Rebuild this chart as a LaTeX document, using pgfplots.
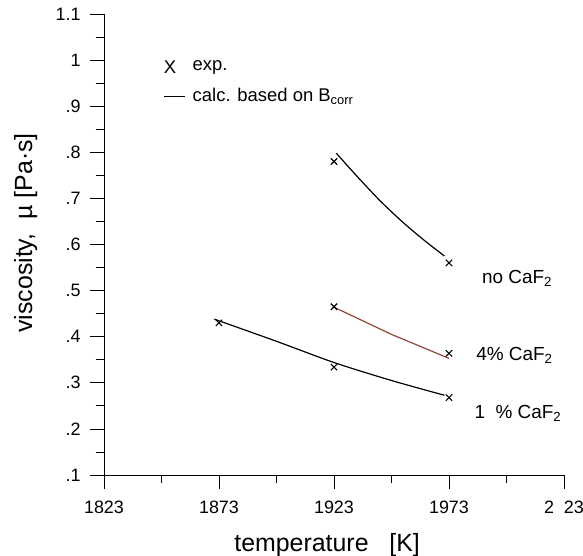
\documentclass[border=0pt]{standalone}
\usepackage{fontspec}
\setmainfont{Liberation Sans}
\usepackage{pgfplots}
\pgfplotsset{compat=1.18}
\definecolor{calcred}{RGB}{150,68,60}
\newcommand\tl{\fontsize{18}{21}\selectfont}
\begin{document}
\begin{tikzpicture}
\useasboundingbox (-104bp,-81bp) rectangle (479bp,475bp);
\begin{axis}[
  at={(0,0)}, anchor=south west,
  scale only axis, width=460bp, height=461bp,
  xmin=1823, xmax=2023, ymin=0.1, ymax=1.1,
  axis lines*=left,
  axis line style={line width=0.8pt},
  tick align=outside,
  major tick length=14bp, minor tick length=8bp,
  every tick/.style={line width=0.8pt, black},
  xtick={1823,1873,1923,1973,2023},
  xticklabels={{\tl 1823},{\tl 1873},{\tl 1923},{\tl 1973},{\tl 2\phantom{0}23}},
  minor xtick={1848,1898,1948,1998},
  ytick={0.1,0.2,0.3,0.4,0.5,0.6,0.7,0.8,0.9,1.0,1.1},
  yticklabels={{\tl .1},{\tl .2},{\tl .3},{\tl .4},{\tl .5},{\tl .6},{\tl .7},{\tl .8},{\tl .9},{\tl 1},{\tl 1.1}},
  minor ytick={0.15,0.25,0.35,0.45,0.55,0.65,0.75,0.85,0.95,1.05},
  xticklabel style={yshift=-8bp},
  yticklabel style={xshift=-6bp},
  xlabel={temperature\ \ \ [K]},
  ylabel={viscosity,\ \ \textmu\ [Pa·s]},
  label style={font=\fontsize{25}{29}\selectfont},
  xlabel style={at={(axis description cs:0.485,0)}, anchor=center, yshift=-70bp},
  ylabel style={at={(axis description cs:-0.170,0.525)}, anchor=center},
  clip=false,
]
% no CaF2
\addplot[black, line width=1.2pt, smooth] coordinates {
  (1924,0.798) (1933,0.748) (1943,0.695) (1953,0.648) (1962,0.610) (1971,0.575)};
\addplot[only marks, mark=x, mark size=4.5bp, black, line width=1.1pt] coordinates {
  (1923,0.78) (1973,0.56)};
% 4% CaF2
\addplot[calcred, line width=1.2pt] coordinates {
  (1923,0.464) (1948,0.405) (1973,0.353)};
\addplot[only marks, mark=x, mark size=4.5bp, black, line width=1.1pt] coordinates {
  (1923,0.465) (1973,0.364)};
% 1% CaF2
\addplot[black, line width=1.2pt, smooth] coordinates {
  (1871,0.438) (1898,0.390) (1923,0.344) (1948,0.305) (1971,0.273)};
\addplot[only marks, mark=x, mark size=4.5bp, black, line width=1.1pt] coordinates {
  (1873,0.43) (1923,0.334) (1973,0.268)};
% labels
\node[anchor=west, font=\fontsize{19}{22}\selectfont, inner sep=0pt] at (axis cs:1987.3,0.527) {no CaF\textsubscript{2}};
\node[anchor=west, font=\fontsize{19}{22}\selectfont, inner sep=0pt] at (axis cs:1984.8,0.36) {4\% CaF\textsubscript{2}};
\node[anchor=west, font=\fontsize{19}{22}\selectfont, inner sep=0pt] at (axis cs:1984,0.234) {1\ \ \% CaF\textsubscript{2}};
% legend
\node[anchor=west, font=\fontsize{18.5}{22}\selectfont, inner sep=0pt] at (axis cs:1849,0.984) {X};
\node[anchor=west, font=\fontsize{18.5}{22}\selectfont, inner sep=0pt] at (axis cs:1861.5,0.984) {exp.};
\draw[black, line width=0.8pt] (axis cs:1849,0.921) -- (axis cs:1858,0.921);
\node[anchor=west, font=\fontsize{18.5}{22}\selectfont, inner sep=0pt] at (axis cs:1861.5,0.921) {calc. based on B\textsubscript{corr}};
\end{axis}
\end{tikzpicture}
\end{document}
